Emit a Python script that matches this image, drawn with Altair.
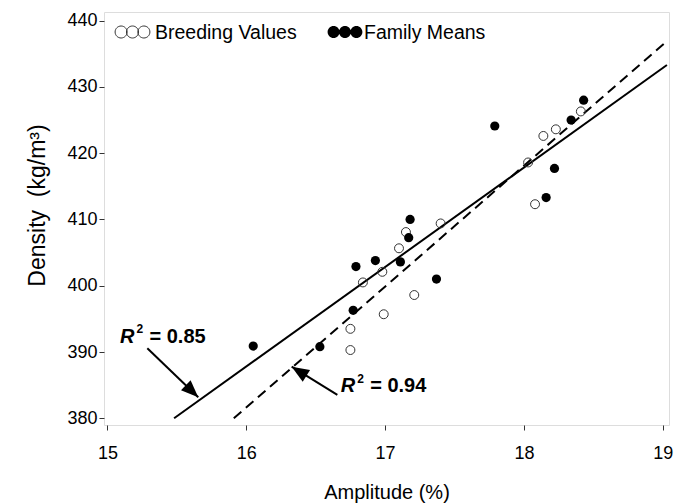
import altair as alt
import pandas as pd

# ---- data ----
series_names = ["Breeding Values", "Family Means"]

bv_amp = [16.75, 16.75, 16.84, 16.98, 16.99, 17.10, 17.15, 17.21, 17.40, 18.03, 18.08, 18.14, 18.23, 18.41]
bv_den = [393.5, 390.3, 400.5, 402.1, 395.7, 405.65, 408.1, 398.6, 409.4, 418.6, 412.3, 422.6, 423.6, 426.3]

fm_amp = [16.05, 16.53, 16.77, 16.79, 16.93, 17.11, 17.17, 17.18, 17.37, 17.79, 18.16, 18.22, 18.34, 18.43]
fm_den = [390.9, 390.8, 396.3, 402.9, 403.8, 403.6, 407.25, 410.0, 401.0, 424.1, 413.3, 417.7, 425.0, 428.0]

# regression lines (end points)
fit_bv_amp = [15.91, 19.03]
fit_bv_den = [380.0, 436.9]
fit_fm_amp = [15.48, 19.03]
fit_fm_den = [380.0, 433.3]

# annotations
r2_values = ["= 0.85", "= 0.94"]
r2_amp = [15.09, 16.68]
r2_den = [391.4, 383.9]
arrow_from_amp = [15.287, 16.656]
arrow_from_den = [390.56, 383.52]
arrow_to_amp = [15.654, 16.327]
arrow_to_den = [383.17, 387.79]
arrow_angle = [134, 302]

x_ticks = [15, 16, 17, 18, 19]
y_ticks = [380, 390, 400, 410, 420, 430, 440]

FONT = "Liberation Sans"

bv = pd.DataFrame({"amp": bv_amp, "den": bv_den})
fm = pd.DataFrame({"amp": fm_amp, "den": fm_den})
fit_bv = pd.DataFrame({"amp": fit_bv_amp, "den": fit_bv_den})
fit_fm = pd.DataFrame({"amp": fit_fm_amp, "den": fit_fm_den})
ann = pd.DataFrame({"amp": r2_amp, "den": r2_den, "val": r2_values})
arrows = pd.DataFrame({"amp": arrow_from_amp, "den": arrow_from_den,
                       "amp2": arrow_to_amp, "den2": arrow_to_den})
heads = pd.DataFrame({"amp": arrow_to_amp, "den": arrow_to_den, "ang": arrow_angle})

xscale = alt.Scale(domain=[14.975, 19.045], nice=False, zero=False)
yscale = alt.Scale(domain=[378.99, 441.3], nice=False, zero=False)

xaxis = alt.Axis(values=x_ticks, format="d", title="Amplitude (%)", grid=False, domain=False,
                 tickSize=5, tickColor="#333", labelFontSize=18, labelPadding=14,
                 labelFont=FONT, labelColor="black", titleFont=FONT, titleFontSize=20,
                 titleFontWeight="normal", titleColor="black", titleBaseline="alphabetic",
                 titleY=73)
yaxis = alt.Axis(values=y_ticks, format="d", title="Density\u00a0\u00a0(kg/m³)", grid=False,
                 domain=False, tickSize=5, tickColor="#333", labelFontSize=18, labelPadding=2,
                 labelFont=FONT, labelColor="black", titleFont=FONT, titleFontSize=23,
                 titleFontWeight="normal", titleColor="black", titleAngle=-90,
                 titleBaseline="alphabetic", titleAlign="center", titleX=-60, titleY=193)

X = alt.X("amp:Q", scale=xscale, axis=xaxis)
Y = alt.Y("den:Q", scale=yscale, axis=yaxis)

open_pts = alt.Chart(bv).mark_point(shape="circle", filled=False, size=80, stroke="#333",
                                    strokeWidth=1, opacity=1).encode(x=X, y=Y)
filled_pts = alt.Chart(fm).mark_point(shape="circle", filled=True, size=85, color="black",
                                      opacity=1).encode(x=X, y=Y)

line_bv = alt.Chart(fit_bv).mark_line(color="black", strokeWidth=2, strokeDash=[10, 6],
                                      clip=True).encode(x=X, y=Y)
line_fm = alt.Chart(fit_fm).mark_line(color="black", strokeWidth=2, clip=True).encode(x=X, y=Y)

shafts = alt.Chart(arrows).mark_rule(color="black", strokeWidth=2).encode(
    x=X, y=Y, x2="amp2:Q", y2="den2:Q")
arrow_path = "M0,0L0.8,2L-0.8,2Z"
tips = alt.Chart(heads).mark_point(shape=arrow_path, filled=True, size=300, color="black",
                                   opacity=1).encode(x=X, y=Y, angle=alt.Angle("ang:Q", scale=None))

r_txt = alt.Chart(ann).mark_text(text="R", font=FONT, fontSize=20, fontWeight="bold",
                                 fontStyle="italic", align="left", baseline="alphabetic",
                                 color="black").encode(x=X, y=Y)
sup_txt = alt.Chart(ann).mark_text(text="2", font=FONT, fontSize=12, fontWeight="bold",
                                   align="left", baseline="alphabetic", dx=16.5, dy=-9.5,
                                   color="black").encode(x=X, y=Y)
val_txt = alt.Chart(ann).mark_text(font=FONT, fontSize=20, fontWeight="bold", align="left",
                                   baseline="alphabetic", dx=29.5, color="black").encode(
    x=X, y=Y, text="val:N")

# legend (drawn manually, SAS style with three symbols)
three_circles = ("M-2.9,0A1,1,0,1,0,-0.9,0A1,1,0,1,0,-2.9,0Z"
                 "M-1,0A1,1,0,1,0,1,0A1,1,0,1,0,-1,0Z"
                 "M0.9,0A1,1,0,1,0,2.9,0A1,1,0,1,0,0.9,0Z")
leg_df0 = pd.DataFrame({"s": [series_names[0]]})
leg_df1 = pd.DataFrame({"s": [series_names[1]]})
leg_sym0 = alt.Chart(leg_df0).mark_point(shape=three_circles, filled=False, size=144,
                                         stroke="#333", strokeWidth=1, opacity=1).encode(
    x=alt.value(28.5), y=alt.value(20))
leg_sym1 = alt.Chart(leg_df1).mark_point(shape=three_circles, filled=True, size=144,
                                         color="black", opacity=1).encode(
    x=alt.value(241), y=alt.value(20))
leg_txt0 = alt.Chart(leg_df0).mark_text(font=FONT, fontSize=19.5, align="left",
                                        baseline="middle", color="black").encode(
    x=alt.value(51), y=alt.value(21), text="s:N")
leg_txt1 = alt.Chart(leg_df1).mark_text(font=FONT, fontSize=19.5, align="left",
                                        baseline="middle", color="black").encode(
    x=alt.value(260), y=alt.value(21), text="s:N")

chart = alt.layer(
    line_fm, line_bv, open_pts, filled_pts, shafts, tips, r_txt, sup_txt, val_txt,
    leg_sym0, leg_sym1, leg_txt0, leg_txt1
).properties(
    width=565, height=413,
    autosize=alt.AutoSizeParams(type="none"),
    padding={"left": 96, "top": 4, "right": 10, "bottom": 84},
).configure_view(
    stroke="#333", strokeWidth=1
).configure(background="white")

chart.save("out.html", embed_options={"renderer": "svg", "actions": False})
